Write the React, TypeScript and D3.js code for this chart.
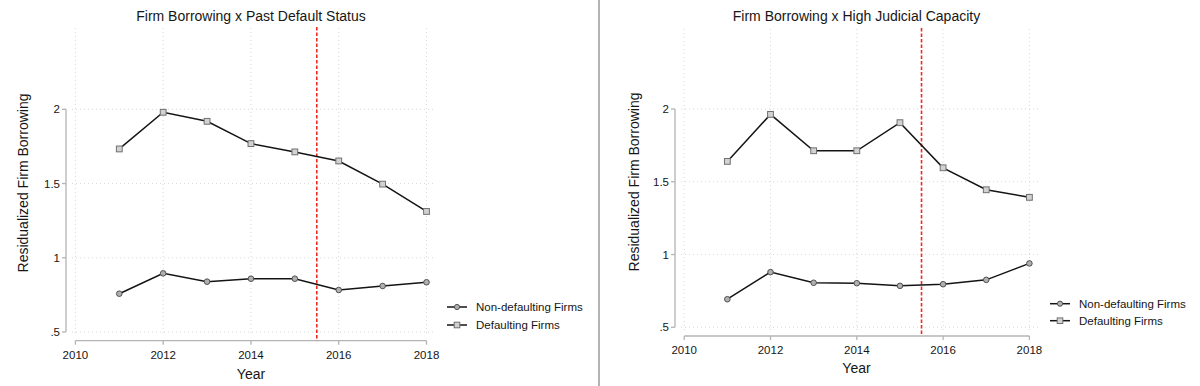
import React from "react";
import * as d3 from "d3";

const years = [2011, 2012, 2013, 2014, 2015, 2016, 2017, 2018];
const xTicks = [2010, 2012, 2014, 2016, 2018];
const yTicks = [0.5, 1, 1.5, 2];
const yTickLabels = [".5", "1", "1.5", "2"];
const cutoffYear = 2015.5;

const leftTitle = "Firm Borrowing x Past Default Status";
const leftNonDefaulting = [0.758, 0.895, 0.839, 0.859, 0.859, 0.783, 0.81, 0.835];
const leftDefaulting = [1.733, 1.98, 1.919, 1.769, 1.713, 1.652, 1.496, 1.312];

const rightTitle = "Firm Borrowing x High Judicial Capacity";
const rightNonDefaulting = [0.693, 0.879, 0.806, 0.803, 0.785, 0.796, 0.826, 0.939];
const rightDefaulting = [1.64, 1.963, 1.713, 1.713, 1.906, 1.596, 1.445, 1.393];

const seriesNames = ["Non-defaulting Firms", "Defaulting Firms"];

const FONT = "'Liberation Sans', Arial, Helvetica, sans-serif";

type PanelProps = {
  ox: number;
  title: string;
  nonDef: number[];
  def: number[];
  axisX: number;
  x0: number;
  x1: number;
  y2: number;
  y05: number;
  xAxisY: number;
  gridTop: number;
  gridRight: number;
  titleX: number;
  ylabX: number;
  ylabY: number;
  yearY: number;
  legX: number;
  legY: number[];
};

function Panel(p: PanelProps) {
  const x = d3.scaleLinear().domain([2010, 2018]).range([p.x0, p.x1]);
  const y = d3.scaleLinear().domain([0.5, 2]).range([p.y05, p.y2]);
  const line = d3
    .line<number>()
    .x((_, i) => x(years[i]))
    .y((v) => y(v));
  const axisCol = "#b4b4b4";
  const gridCol = "#d8d8d8";
  const gridLeft = p.axisX + 6;
  const gridBottom = p.xAxisY - 5;
  const txt = "#161616";
  return (
    <g transform={`translate(${p.ox},0)`}>
      <text x={p.titleX} y={21} textAnchor="middle" fontSize={14} fill={txt} fontFamily={FONT}>
        {p.title}
      </text>
      {yTicks.map((t) => (
        <line key={"hg" + t} x1={gridLeft} x2={p.gridRight} y1={y(t)} y2={y(t)} stroke={gridCol} strokeWidth={1} strokeDasharray="1,3" />
      ))}
      {xTicks.map((t) => (
        <line key={"vg" + t} x1={x(t)} x2={x(t)} y1={p.gridTop} y2={gridBottom} stroke={gridCol} strokeWidth={1} strokeDasharray="1,3" />
      ))}
      <line x1={p.axisX} x2={p.axisX} y1={y(2)} y2={y(0.5)} stroke={axisCol} strokeWidth={1.3} />
      {yTicks.map((t, i) => (
        <g key={"yt" + t}>
          <line x1={p.axisX - 4} x2={p.axisX} y1={y(t)} y2={y(t)} stroke={axisCol} strokeWidth={1.3} />
          <text x={p.axisX - 6} y={y(t) + 4} textAnchor="end" fontSize={11.5} fill={txt} fontFamily={FONT}>
            {yTickLabels[i]}
          </text>
        </g>
      ))}
      <line x1={x(2010)} x2={x(2018)} y1={p.xAxisY} y2={p.xAxisY} stroke={axisCol} strokeWidth={1.3} />
      {xTicks.map((t) => (
        <g key={"xt" + t}>
          <line x1={x(t)} x2={x(t)} y1={p.xAxisY} y2={p.xAxisY + 4} stroke={axisCol} strokeWidth={1.3} />
          <text x={x(t)} y={p.xAxisY + 18} textAnchor="middle" fontSize={11.5} fill={txt} fontFamily={FONT}>
            {t}
          </text>
        </g>
      ))}
      <text
        transform={`translate(${p.ylabX},${p.ylabY}) rotate(-90)`}
        textAnchor="middle"
        dy="0.35em"
        fontSize={14}
        fill={txt}
        fontFamily={FONT}
      >
        Residualized Firm Borrowing
      </text>
      <text x={p.titleX} y={p.yearY} textAnchor="middle" dy="0.35em" fontSize={14} fill={txt} fontFamily={FONT}>
        Year
      </text>
      <line
        x1={x(cutoffYear)}
        x2={x(cutoffYear)}
        y1={p.gridTop - 1}
        y2={p.xAxisY}
        stroke="#f02a20"
        strokeWidth={1.6}
        strokeDasharray="3.5,2"
      />
      <path d={line(p.nonDef) || ""} fill="none" stroke="#141414" strokeWidth={1.5} />
      <path d={line(p.def) || ""} fill="none" stroke="#141414" strokeWidth={1.5} />
      {p.nonDef.map((v, i) => (
        <circle key={"c" + i} cx={x(years[i])} cy={y(v)} r={2.8} fill="#b0b0b0" stroke="#505050" strokeWidth={1} />
      ))}
      {p.def.map((v, i) => (
        <rect key={"s" + i} x={x(years[i]) - 2.9} y={y(v) - 2.9} width={5.8} height={5.8} fill="#d2d2d2" stroke="#707070" strokeWidth={1} />
      ))}
      <g>
        <line x1={p.legX} x2={p.legX + 20} y1={p.legY[0]} y2={p.legY[0]} stroke="#141414" strokeWidth={1.5} />
        <circle cx={p.legX + 10} cy={p.legY[0]} r={2.6} fill="#b0b0b0" stroke="#505050" strokeWidth={1} />
        <text x={p.legX + 29} y={p.legY[0]} dy="0.35em" fontSize={11.5} fill={txt} fontFamily={FONT}>
          {seriesNames[0]}
        </text>
        <line x1={p.legX} x2={p.legX + 20} y1={p.legY[1]} y2={p.legY[1]} stroke="#141414" strokeWidth={1.5} />
        <rect x={p.legX + 7.2} y={p.legY[1] - 2.8} width={5.6} height={5.6} fill="#d2d2d2" stroke="#707070" strokeWidth={1} />
        <text x={p.legX + 29} y={p.legY[1]} dy="0.35em" fontSize={11.5} fill={txt} fontFamily={FONT}>
          {seriesNames[1]}
        </text>
      </g>
    </g>
  );
}

export default function App() {
  return (
    <svg width={1200} height={386} style={{ position: "absolute", left: 0, top: 0, background: "#fff" }}>
      <rect x={0} y={0} width={1200} height={386} fill="#fff" />
      <Panel
        ox={0}
        title={leftTitle}
        nonDef={leftNonDefaulting}
        def={leftDefaulting}
        axisX={66}
        x0={75.4}
        x1={426.5}
        y2={109.3}
        y05={332}
        xAxisY={340.7}
        gridTop={28}
        gridRight={436}
        titleX={251}
        ylabX={23}
        ylabY={183}
        yearY={374}
        legX={447}
        legY={[307, 325]}
      />
      <Panel
        ox={600}
        title={rightTitle}
        nonDef={rightNonDefaulting}
        def={rightDefaulting}
        axisX={75}
        x0={84.2}
        x1={429.4}
        y2={109}
        y05={327.3}
        xAxisY={336}
        gridTop={29}
        gridRight={438}
        titleX={256.5}
        ylabX={33.7}
        ylabY={182}
        yearY={368}
        legX={450}
        legY={[303.7, 320.7]}
      />
      <line x1={599} x2={599} y1={0} y2={386} stroke="#9a9a9a" strokeWidth={1.5} />
    </svg>
  );
}
